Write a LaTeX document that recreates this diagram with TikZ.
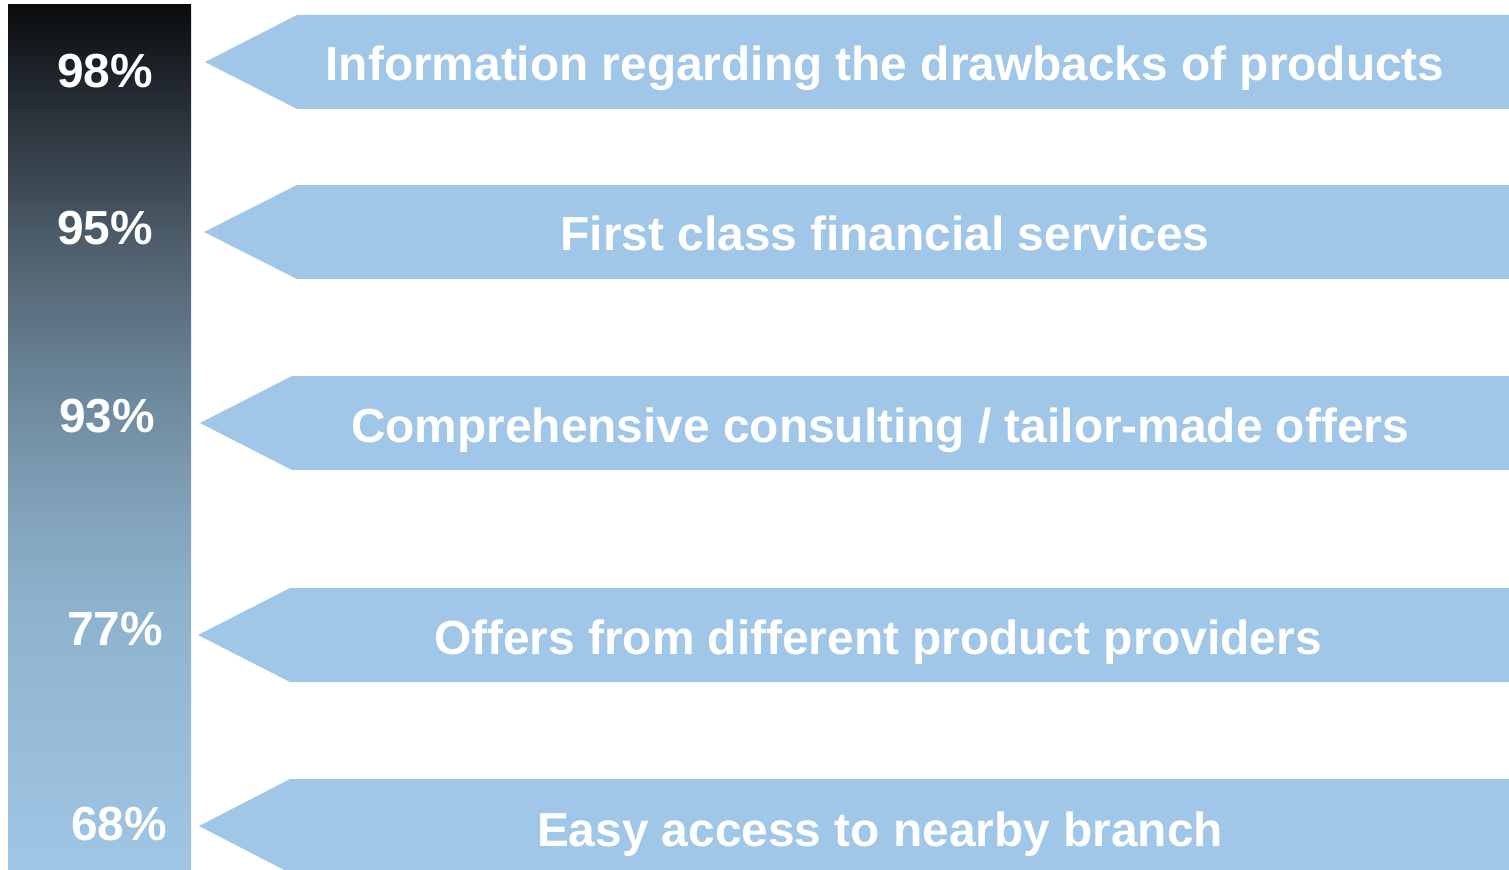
\documentclass[tikz,border=0pt]{standalone}
\usepackage{fontspec}
\setmainfont{Liberation Sans}
\definecolor{bandblue}{HTML}{A0C7E7}
\definecolor{barA}{HTML}{A0C6E6}
\definecolor{barB}{HTML}{8DB2CC}
\definecolor{barC}{HTML}{80A0B8}
\definecolor{barD}{HTML}{6A8598}
\definecolor{barE}{HTML}{50606E}
\definecolor{barF}{HTML}{2E3740}
\definecolor{barG}{HTML}{0A0C0E}
\pgfdeclareverticalshading{barshade}{100bp}{color(0bp)=(barA); color(25bp)=(barA);
  color(40.6bp)=(barB); color(46.4bp)=(barC); color(53.3bp)=(barD);
  color(60.85bp)=(barE); color(67.75bp)=(barF); color(75bp)=(barG); color(100bp)=(barG)}
\tikzset{
  band/.style={fill=bandblue, draw=none},
  bandtext/.style={text=white, font=\fontsize{13.6}{16}\selectfont\bfseries, anchor=base, inner sep=0pt},
  pcttext/.style={text=white, font=\fontsize{13.6}{16}\selectfont\bfseries, anchor=base, inner sep=0pt}
}
\begin{document}
\begin{tikzpicture}[x=0.01cm, y=-0.01cm]
    \useasboundingbox (0, 0) rectangle (1509, 870);
    % gradient bar
    \shade[shading=barshade] (8, 5) rectangle (191, 870);
        \node[pcttext] (p98) at (105, 88){98\%};
        \node[pcttext] (p95) at (105, 245){95\%};
        \node[pcttext] (p93) at (107, 432){93\%};
        \node[pcttext] (p77) at (115, 645){77\%};
        \node[pcttext] (p68) at (119, 840){68\%};
    % bands
    \fill[band] (205, 62) -- (297, 15) -- (1509, 15) -- (1509, 109) -- (297, 109) -- cycle;
        \node[bandtext] (drawbacks) at (885, 81){Information regarding the drawbacks of products};
    \fill[band] (204, 232) -- (297, 185) -- (1509, 185) -- (1509, 279) -- (297, 279) -- cycle;
        \node[bandtext] (firstclass) at (885, 251){First class financial services};
    \fill[band] (200, 423) -- (292, 376) -- (1509, 376) -- (1509, 470) -- (292, 470) -- cycle;
        \node[bandtext] (consulting) at (880, 442){Comprehensive consulting / tailor-made offers};
    \fill[band] (198, 635) -- (290, 588) -- (1509, 588) -- (1509, 682) -- (290, 682) -- cycle;
        \node[bandtext] (providers) at (878, 654){Offers from different product providers};
    \fill[band] (199, 826) -- (290, 779) -- (1509, 779) -- (1509, 873) -- (290, 873) -- cycle;
        \node[bandtext] (branch) at (880, 846){Easy access to nearby branch};
\end{tikzpicture}
\end{document}
